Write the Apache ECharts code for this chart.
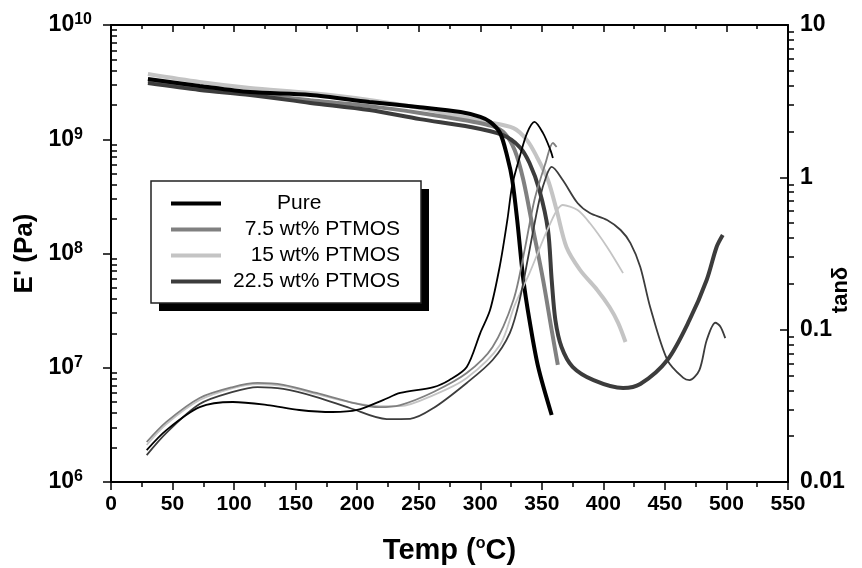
<!DOCTYPE html>
<html>
<head>
<meta charset="utf-8">
<title>DMA</title>
<script src="https://cdn.jsdelivr.net/npm/echarts@6.0.0/dist/echarts.min.js"></script>
<style>
  html, body { margin: 0; padding: 0; background: #fff; }
  #chart { width: 862px; height: 568px; }
</style>
</head>
<body>
<div id="chart"></div>
<script>
// sample names
const sampleNames = ["Pure", "7.5 wt% PTMOS", "15 wt% PTMOS", "22.5 wt% PTMOS"];

// storage modulus E' (Pa) vs temperature (°C)
const pureModulus = [[30, 3.37e9], [72, 2.93e9], [113, 2.59e9], [162, 2.44e9], [210, 2.12e9], [251, 1.91e9], [284, 1.73e9], [300, 1.57e9], [308, 1.42e9], [316, 1.14e9], [322, 7.0e8], [326, 4.4e8], [330, 1.96e8], [335, 5.9e7], [340, 2.6e7], [347, 1.02e7], [358, 3.86e6]];
const ptmos75Modulus = [[30, 3.24e9], [72, 2.8e9], [113, 2.5e9], [162, 2.2e9], [210, 1.95e9], [251, 1.7e9], [290, 1.45e9], [310, 1.3e9], [320, 1.12e9], [328, 8.0e8], [335, 4.4e8], [343, 1.61e8], [351, 5.9e7], [358, 2.14e7], [363, 1.06e7]];
const ptmos15Modulus = [[30, 3.72e9], [72, 3.17e9], [113, 2.81e9], [162, 2.54e9], [210, 2.21e9], [251, 1.88e9], [305, 1.42e9], [327, 1.25e9], [338, 9.8e8], [346, 7.0e8], [355, 4.4e8], [362, 2.4e8], [370, 1.14e8], [381, 7.2e7], [395, 4.8e7], [405, 3.4e7], [412, 2.47e7], [418, 1.68e7]];
const ptmos225Modulus = [[30, 3.1e9], [72, 2.7e9], [113, 2.44e9], [162, 2.08e9], [210, 1.8e9], [251, 1.5e9], [292, 1.28e9], [318, 1.09e9], [332, 8.55e8], [340, 6.2e8], [348, 3.6e8], [355, 1.61e8], [358, 5.9e7], [361, 2.62e7], [366, 1.52e7], [375, 1.02e7], [392, 7.8e6], [416, 6.65e6], [430, 7.2e6], [452, 1.17e7], [470, 2.62e7], [484, 5.9e7], [492, 1.14e8], [497, 1.45e8]];

// tan delta vs temperature (°C)
const pureTan = [[29, 0.0162], [45, 0.0219], [72, 0.031], [99, 0.0335], [127, 0.032], [153, 0.0297], [180, 0.0288], [200, 0.0297], [221, 0.0345], [235, 0.0384], [262, 0.042], [275, 0.0468], [289, 0.0569], [300, 0.095], [308, 0.135], [316, 0.265], [322, 0.525], [326, 0.89], [332, 1.36], [338, 1.95], [344, 2.31], [351, 1.95], [357, 1.51], [359, 1.34]];
const ptmos75Tan = [[29, 0.0183], [45, 0.0248], [72, 0.0356], [99, 0.042], [119, 0.0447], [140, 0.0434], [167, 0.0384], [194, 0.0335], [218, 0.031], [235, 0.032], [262, 0.039], [289, 0.0519], [310, 0.0769], [327, 0.157], [336, 0.333], [344, 0.71], [353, 1.24], [359, 1.68], [362, 1.58]];
const ptmos15Tan = [[29, 0.0175], [45, 0.024], [72, 0.0345], [99, 0.0414], [119, 0.044], [140, 0.0427], [167, 0.0378], [194, 0.0335], [218, 0.0315], [235, 0.0315], [262, 0.0372], [289, 0.0482], [316, 0.0793], [328, 0.145], [340, 0.235], [357, 0.501], [367, 0.658], [379, 0.61], [389, 0.501], [403, 0.349], [416, 0.235]];
const ptmos225Tan = [[29, 0.015], [45, 0.021], [72, 0.0325], [99, 0.039], [119, 0.042], [140, 0.0408], [167, 0.0361], [194, 0.0306], [224, 0.0259], [243, 0.026], [262, 0.0306], [289, 0.0447], [310, 0.0632], [324, 0.095], [332, 0.157], [340, 0.333], [348, 0.71], [354, 1.035], [358, 1.17], [367, 0.96], [379, 0.678], [389, 0.583], [403, 0.525], [414, 0.451], [422, 0.37], [430, 0.258], [438, 0.141], [452, 0.0632], [465, 0.0482], [470, 0.0467], [478, 0.0543], [484, 0.0855], [491, 0.111], [495, 0.105], [499, 0.088]];

const sampleColors = ["#000000", "#808080", "#c4c4c4", "#3c3c3c"];

const narrowFont = "'Liberation Sans Narrow', 'Liberation Sans', Arial, sans-serif";
const textFont = "'Liberation Sans', Arial, sans-serif";

const black = { color: "#000", width: 2 };
const tickLine = { color: "#000", width: 1.5 };

// minor ticks of the log axes (2..9 in each decade), on a linear exponent axis
function minorExponents(lo, hi) {
  let out = [];
  for (let e = lo; e < hi; e++) {
    for (let k = 2; k <= 9; k++) out.push(e + Math.log10(k));
  }
  return out;
}

function lineSeries(idx, data, yAxisIndex, width) {
  return {
    name: sampleNames[idx],
    type: "line",
    xAxisIndex: 0,
    yAxisIndex: yAxisIndex,
    data: data,
    smooth: 0.3,
    symbol: "none",
    lineStyle: { color: sampleColors[idx], width: width },
    itemStyle: { color: sampleColors[idx] },
  };
}

var myChart = echarts.init(document.getElementById("chart"));
myChart.setOption({
  animation: false,
  backgroundColor: "#fff",
  grid: { left: 111, right: 74, top: 25, bottom: 86, containLabel: false, outerBoundsMode: "none" },
  graphic: [
    // hard shadow behind the legend box
    {
      type: "rect",
      left: 159,
      top: 189,
      shape: { width: 270, height: 122 },
      style: { fill: "#000" },
      z: 3,
    },
    {
      type: "text",
      x: 841,
      y: 290,
      rotation: Math.PI / 2,
      style: {
        text: "tanδ",
        font: "bold 22px " + textFont,
        fill: "#000",
        align: "center",
        verticalAlign: "middle",
      },
    },
  ],
  legend: {
    data: sampleNames,
    orient: "vertical",
    left: 151,
    top: 181,
    padding: [12, 21, 11, 20],
    itemGap: 5,
    itemWidth: 50,
    itemHeight: 4,
    icon: "rect",
    backgroundColor: "#fff",
    borderColor: "#222",
    borderWidth: 1.5,
    selectedMode: false,
    z: 5,
    formatter: function (name) {
      return name === "Pure" ? "{p|" + name + "}" : "{r|" + name + "}";
    },
    textStyle: {
      fontFamily: textFont,
      fontSize: 21,
      color: "#000",
      rich: {
        r: { width: 174, align: "right", fontSize: 21, lineHeight: 24, fontFamily: textFont },
        p: { width: 123, padding: [0, 0, 0, 51], fontSize: 21, lineHeight: 24, fontFamily: textFont },
      },
    },
  },
  xAxis: [
    {
      type: "value",
      position: "bottom",
      min: 0,
      max: 550,
      interval: 50,
      axisLine: { onZero: false, lineStyle: black },
      axisTick: { length: 8, lineStyle: tickLine },
      minorTick: { show: true, splitNumber: 2, length: 5, lineStyle: tickLine },
      splitLine: { show: false },
      axisLabel: { margin: 12, fontSize: 21, fontWeight: "bold", color: "#000", fontFamily: narrowFont },
      name: "Temp ({s|o}C)",
      nameLocation: "middle",
      nameGap: 54,
      nameTextStyle: {
        fontSize: 29,
        fontWeight: "bold",
        color: "#000",
        fontFamily: narrowFont,
        rich: {
          s: { fontSize: 16, fontWeight: "bold", verticalAlign: "top", lineHeight: 18, fontFamily: narrowFont },
        },
      },
    },
    {
      type: "value",
      position: "top",
      min: 0,
      max: 550,
      interval: 50,
      axisLine: { onZero: false, lineStyle: black },
      axisTick: { inside: true, length: 7, lineStyle: tickLine },
      minorTick: { show: true, splitNumber: 2, length: 4, lineStyle: tickLine },
      splitLine: { show: false },
      axisLabel: { show: false },
    },
  ],
  yAxis: [
    {
      type: "log",
      logBase: 10,
      position: "left",
      min: 1e6,
      max: 1e10,
      axisLine: { show: true, onZero: false, lineStyle: black },
      axisTick: { length: 8, lineStyle: tickLine },
      splitLine: { show: false },
      axisLabel: {
        margin: 19,
        color: "#000",
        formatter: function (v) {
          let e = Math.round(Math.log10(v));
          return "{b|10}" + (e >= 10 ? "{s|" + e + "}" : "{s1|" + e + "}");
        },
        rich: {
          b: { fontSize: 23, fontWeight: "bold", fontFamily: textFont, color: "#000", lineHeight: 26 },
          s: { fontSize: 16, fontWeight: "bold", fontFamily: textFont, color: "#000", verticalAlign: "top", lineHeight: 14 },
          s1: { fontSize: 16, fontWeight: "bold", fontFamily: textFont, color: "#000", verticalAlign: "top", lineHeight: 14, padding: [0, 9, 0, 0] },
        },
      },
      name: "E' (Pa)",
      nameLocation: "middle",
      nameRotate: 90,
      nameGap: 70,
      nameTextStyle: { fontSize: 26, fontWeight: "bold", color: "#000", fontFamily: textFont },
    },
    {
      type: "log",
      logBase: 10,
      position: "right",
      min: 0.01,
      max: 10,
      axisLine: { show: true, onZero: false, lineStyle: black },
      axisTick: { inside: true, length: 8, lineStyle: tickLine },
      splitLine: { show: false },
      axisLabel: {
        margin: 12,
        fontSize: 23,
        fontWeight: "bold",
        color: "#000",
        fontFamily: textFont,
        formatter: function (v) {
          return v >= 1 ? String(Math.round(v)) : String(+v.toPrecision(1));
        },
      },
    },
    // minor ticks of the two log axes
    {
      type: "value",
      position: "left",
      min: 6,
      max: 10,
      axisLine: { show: false, onZero: false },
      axisLabel: { show: false },
      splitLine: { show: false },
      axisTick: { show: true, inside: true, length: 6, lineStyle: tickLine, customValues: minorExponents(6, 10) },
    },
    {
      type: "value",
      position: "right",
      min: -2,
      max: 1,
      axisLine: { show: false, onZero: false },
      axisLabel: { show: false },
      splitLine: { show: false },
      axisTick: { show: true, inside: false, length: 6, lineStyle: tickLine, customValues: minorExponents(-2, 1) },
    },
  ],
  series: [
    lineSeries(2, ptmos15Modulus, 0, 4),
    lineSeries(1, ptmos75Modulus, 0, 4),
    lineSeries(3, ptmos225Modulus, 0, 4),
    lineSeries(0, pureModulus, 0, 4),
    lineSeries(2, ptmos15Tan, 1, 1.8),
    lineSeries(1, ptmos75Tan, 1, 1.8),
    lineSeries(3, ptmos225Tan, 1, 1.8),
    lineSeries(0, pureTan, 1, 1.8),
  ],
});
</script>
</body>
</html>
